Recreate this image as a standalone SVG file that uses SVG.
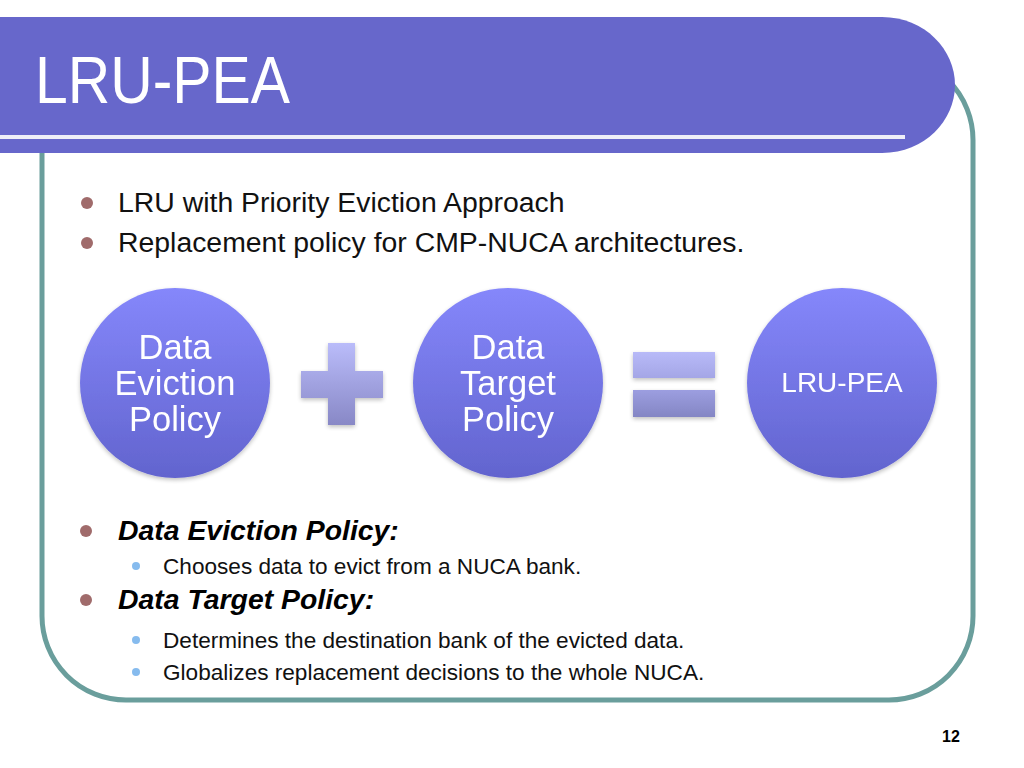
<svg xmlns="http://www.w3.org/2000/svg" width="1024" height="768" viewBox="0 0 1024 768">
<style>
.frame{fill:none;stroke:#6A9E9C;stroke-width:5}
.b1{font-family:"Liberation Sans",Arial,sans-serif;font-size:28.4px;fill:#111}
.b1bi{font-family:"Liberation Sans",Arial,sans-serif;font-size:28.4px;font-weight:bold;font-style:italic;fill:#000}
.b2{font-family:"Liberation Sans",Arial,sans-serif;font-size:22.6px;fill:#111}
.ct{font-family:"Liberation Sans",Arial,sans-serif;font-size:34.5px;fill:#fff;text-anchor:middle}
.dot1{fill:#A06B6B}
.dot2{fill:#86BBEE}
</style>
<defs>
<linearGradient id="cg" x1="0" y1="0" x2="0" y2="1">
<stop offset="0" stop-color="#8587FB"/>
<stop offset="1" stop-color="#6264CE"/>
</linearGradient>
<linearGradient id="pg" x1="0" y1="0" x2="0" y2="1">
<stop offset="0" stop-color="#BABCFA"/>
<stop offset="1" stop-color="#8888C6"/>
</linearGradient>
<linearGradient id="eg1" x1="0" y1="0" x2="0" y2="1">
<stop offset="0" stop-color="#B8BAF8"/>
<stop offset="1" stop-color="#A4A6E6"/>
</linearGradient>
<linearGradient id="eg2" x1="0" y1="0" x2="0" y2="1">
<stop offset="0" stop-color="#9C9EE0"/>
<stop offset="1" stop-color="#8486C4"/>
</linearGradient>
<filter id="sh" x="-20%" y="-20%" width="140%" height="140%">
<feGaussianBlur in="SourceAlpha" stdDeviation="2"/>
<feOffset dx="0" dy="2"/>
<feComponentTransfer><feFuncA type="linear" slope="0.25"/></feComponentTransfer>
<feMerge><feMergeNode/><feMergeNode in="SourceGraphic"/></feMerge>
</filter>
</defs>
<rect width="1024" height="768" fill="#fff"/>
<g id="frame">
<rect class="frame" x="42" y="56" width="931" height="644" rx="84" ry="84"/>
</g>
<g id="titlebar">
<path d="M0,17 H882 C925,17 955,50 955,85 C955,120 925,153 882,153 H0 Z" fill="#6767CB"/>
<rect x="0" y="135" width="905" height="4" fill="#EEEEF8"/>
<text x="35" y="103" font-family="'Liberation Sans',Arial,sans-serif" font-size="66" fill="#fff" textLength="255" lengthAdjust="spacingAndGlyphs">LRU-PEA</text>
</g>
<g id="bullets-top">
<circle class="dot1" cx="87" cy="203" r="6"/>
<text class="b1" x="118" y="212">LRU with Priority Eviction Approach</text>
<circle class="dot1" cx="87" cy="243" r="6"/>
<text class="b1" x="118" y="252">Replacement policy for CMP-NUCA architectures.</text>
</g>
<g id="node-eviction" filter="url(#sh)">
<circle cx="175" cy="383" r="95" fill="url(#cg)"/>
<text class="ct" x="175" y="359">Data</text>
<text class="ct" x="175" y="395">Eviction</text>
<text class="ct" x="175" y="431">Policy</text>
</g>
<g id="plus" filter="url(#sh)">
<path d="M328,343 H355 V371 H383 V398 H355 V425 H328 V398 H301 V371 H328 Z" fill="url(#pg)"/>
</g>
<g id="node-target" filter="url(#sh)">
<circle cx="508" cy="383" r="95" fill="url(#cg)"/>
<text class="ct" x="508" y="359">Data</text>
<text class="ct" x="508" y="395">Target</text>
<text class="ct" x="508" y="431">Policy</text>
</g>
<g id="equals" filter="url(#sh)">
<rect x="633" y="352" width="82" height="26" fill="url(#eg1)"/>
<rect x="633" y="390" width="82" height="27" fill="url(#eg2)"/>
</g>
<g id="node-lrupea" filter="url(#sh)">
<circle cx="842" cy="383" r="95" fill="url(#cg)"/>
<text class="ct" x="842" y="392" style="font-size:28px">LRU-PEA</text>
</g>
<g id="bullets-bottom">
<circle class="dot1" cx="86" cy="531" r="6"/>
<text class="b1bi" x="118" y="540">Data Eviction Policy:</text>
<circle class="dot2" cx="136" cy="566" r="4"/>
<text class="b2" x="163" y="574">Chooses data to evict from a NUCA bank.</text>
<circle class="dot1" cx="86" cy="600" r="6"/>
<text class="b1bi" x="118" y="609">Data Target Policy:</text>
<circle class="dot2" cx="136" cy="640" r="4"/>
<text class="b2" x="163" y="648">Determines the destination bank of the evicted data.</text>
<circle class="dot2" cx="136" cy="672" r="4"/>
<text class="b2" x="163" y="680">Globalizes replacement decisions to the whole NUCA.</text>
</g>
<text x="951" y="742" font-family="'Liberation Sans',Arial,sans-serif" font-size="16" font-weight="bold" fill="#000" text-anchor="middle">12</text>
</svg>
